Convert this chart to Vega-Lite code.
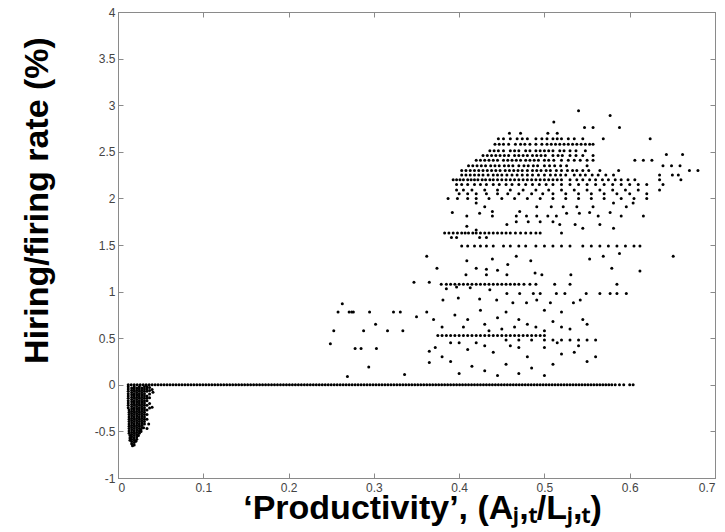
{
"$schema":"https://vega.github.io/schema/vega-lite/v6.json",
"width":597,"height":466,
"autosize":"none",
"padding":{"left":118,"top":12,"right":10,"bottom":54},
"background":"white",
"config":{"view":{"stroke":"#8a8a8a","strokeWidth":1},"font":"Liberation Sans"},
"datasets":{
"zero":[0.012,0.0155,0.019,0.0225,0.026,0.0295,0.033,0.0365,0.04,0.0435,0.047,0.0505,0.054,0.0575,0.061,0.0645,0.068,0.0715,0.075,0.0785,0.082,0.0855,0.089,0.0925,0.096,0.0995,0.103,0.1065,0.11,0.1135,0.117,0.1205,0.124,0.1275,0.131,0.1345,0.138,0.1415,0.145,0.1485,0.152,0.1555,0.159,0.1625,0.166,0.1695,0.173,0.1765,0.18,0.1835,0.187,0.1905,0.194,0.1975,0.201,0.2045,0.208,0.2115,0.215,0.2185,0.222,0.2255,0.229,0.2325,0.236,0.2395,0.243,0.2465,0.25,0.2535,0.257,0.2605,0.264,0.2675,0.271,0.2745,0.278,0.2815,0.285,0.2885,0.292,0.2955,0.299,0.3025,0.306,0.3095,0.313,0.3165,0.32,0.3235,0.327,0.3305,0.334,0.3375,0.341,0.3445,0.348,0.3515,0.355,0.3585,0.362,0.3655,0.369,0.3725,0.376,0.3795,0.383,0.3865,0.39,0.3935,0.397,0.4005,0.404,0.4075,0.411,0.4145,0.418,0.4215,0.425,0.4285,0.432,0.4355,0.439,0.4425,0.446,0.4495,0.453,0.4565,0.46,0.4635,0.467,0.4705,0.474,0.4775,0.481,0.4845,0.488,0.4915,0.495,0.4985,0.502,0.5055,0.509,0.5125,0.516,0.5195,0.523,0.5265,0.53,0.5335,0.537,0.5405,0.544,0.5475,0.551,0.5545,0.558,0.5615,0.565,0.5685,0.572,0.5755,0.579,0.583,0.588,0.593,0.6,0.604],
"pts":[
{"p":0.012,"h":-0.02},{"p":0.012,"h":-0.045},{"p":0.012,"h":-0.07},{"p":0.012,"h":-0.095},{"p":0.012,"h":-0.12},{"p":0.012,"h":-0.145},{"p":0.012,"h":-0.17},{"p":0.012,"h":-0.195},{"p":0.012,"h":-0.22},{"p":0.012,"h":-0.245},{"p":0.013,"h":-0.27},{"p":0.013,"h":-0.295},{"p":0.013,"h":-0.32},{"p":0.013,"h":-0.345},{"p":0.013,"h":-0.37},{"p":0.013,"h":-0.395},{"p":0.013,"h":-0.42},{"p":0.013,"h":-0.445},{"p":0.013,"h":-0.47},{"p":0.013,"h":-0.495},{"p":0.013,"h":-0.52},{"p":0.014,"h":-0.545},{"p":0.014,"h":-0.57},{"p":0.014,"h":-0.595},
{"p":0.016,"h":-0.033},{"p":0.016,"h":-0.058},{"p":0.016,"h":-0.083},{"p":0.016,"h":-0.108},{"p":0.016,"h":-0.133},{"p":0.016,"h":-0.158},{"p":0.016,"h":-0.183},{"p":0.016,"h":-0.208},{"p":0.016,"h":-0.233},{"p":0.016,"h":-0.258},{"p":0.016,"h":-0.283},{"p":0.016,"h":-0.308},{"p":0.016,"h":-0.333},{"p":0.016,"h":-0.358},{"p":0.016,"h":-0.383},{"p":0.016,"h":-0.408},{"p":0.016,"h":-0.433},{"p":0.016,"h":-0.458},{"p":0.016,"h":-0.483},{"p":0.016,"h":-0.508},{"p":0.016,"h":-0.533},{"p":0.016,"h":-0.558},{"p":0.016,"h":-0.583},{"p":0.016,"h":-0.608},{"p":0.016,"h":-0.633},{"p":0.017,"h":-0.655},
{"p":0.019,"h":-0.02},{"p":0.019,"h":-0.045},{"p":0.019,"h":-0.07},{"p":0.019,"h":-0.095},{"p":0.019,"h":-0.12},{"p":0.019,"h":-0.145},{"p":0.019,"h":-0.17},{"p":0.019,"h":-0.195},{"p":0.019,"h":-0.22},{"p":0.019,"h":-0.245},{"p":0.019,"h":-0.27},{"p":0.019,"h":-0.295},{"p":0.019,"h":-0.32},{"p":0.019,"h":-0.345},{"p":0.019,"h":-0.37},{"p":0.019,"h":-0.395},{"p":0.019,"h":-0.42},{"p":0.019,"h":-0.445},{"p":0.019,"h":-0.47},{"p":0.019,"h":-0.495},{"p":0.019,"h":-0.52},{"p":0.019,"h":-0.545},{"p":0.019,"h":-0.57},{"p":0.019,"h":-0.595},{"p":0.019,"h":-0.62},{"p":0.019,"h":-0.645},
{"p":0.022,"h":-0.033},{"p":0.022,"h":-0.058},{"p":0.022,"h":-0.083},{"p":0.022,"h":-0.108},{"p":0.022,"h":-0.133},{"p":0.022,"h":-0.158},{"p":0.022,"h":-0.183},{"p":0.022,"h":-0.208},{"p":0.022,"h":-0.233},{"p":0.022,"h":-0.258},{"p":0.022,"h":-0.283},{"p":0.022,"h":-0.308},{"p":0.022,"h":-0.333},{"p":0.022,"h":-0.358},{"p":0.022,"h":-0.383},{"p":0.022,"h":-0.408},{"p":0.022,"h":-0.433},{"p":0.022,"h":-0.458},{"p":0.022,"h":-0.483},{"p":0.022,"h":-0.508},{"p":0.022,"h":-0.533},{"p":0.022,"h":-0.558},{"p":0.022,"h":-0.583},{"p":0.021,"h":-0.605},
{"p":0.025,"h":-0.02},{"p":0.025,"h":-0.045},{"p":0.025,"h":-0.07},{"p":0.025,"h":-0.095},{"p":0.025,"h":-0.12},{"p":0.025,"h":-0.145},{"p":0.025,"h":-0.17},{"p":0.025,"h":-0.195},{"p":0.025,"h":-0.22},{"p":0.025,"h":-0.245},{"p":0.025,"h":-0.27},{"p":0.025,"h":-0.295},{"p":0.025,"h":-0.32},{"p":0.025,"h":-0.345},{"p":0.025,"h":-0.37},{"p":0.025,"h":-0.395},{"p":0.025,"h":-0.42},{"p":0.025,"h":-0.445},{"p":0.025,"h":-0.47},{"p":0.025,"h":-0.495},{"p":0.025,"h":-0.52},{"p":0.024,"h":-0.545},
{"p":0.028,"h":-0.033},{"p":0.028,"h":-0.058},{"p":0.028,"h":-0.083},{"p":0.028,"h":-0.108},{"p":0.028,"h":-0.133},{"p":0.028,"h":-0.158},{"p":0.028,"h":-0.183},{"p":0.028,"h":-0.208},{"p":0.028,"h":-0.233},{"p":0.028,"h":-0.258},{"p":0.028,"h":-0.283},{"p":0.028,"h":-0.308},{"p":0.028,"h":-0.333},{"p":0.028,"h":-0.358},{"p":0.028,"h":-0.383},{"p":0.028,"h":-0.408},{"p":0.028,"h":-0.433},{"p":0.028,"h":-0.458},{"p":0.027,"h":-0.483},{"p":0.027,"h":-0.5},
{"p":0.031,"h":-0.02},{"p":0.031,"h":-0.045},{"p":0.031,"h":-0.07},{"p":0.031,"h":-0.095},{"p":0.031,"h":-0.12},{"p":0.031,"h":-0.145},{"p":0.031,"h":-0.17},{"p":0.031,"h":-0.195},{"p":0.031,"h":-0.22},{"p":0.031,"h":-0.245},{"p":0.031,"h":-0.27},{"p":0.031,"h":-0.295},{"p":0.031,"h":-0.32},{"p":0.031,"h":-0.345},{"p":0.031,"h":-0.37},{"p":0.031,"h":-0.395},{"p":0.031,"h":-0.42},{"p":0.03,"h":-0.46},
{"p":0.034,"h":-0.02},{"p":0.034,"h":-0.045},{"p":0.034,"h":-0.07},{"p":0.034,"h":-0.12},{"p":0.034,"h":-0.145},{"p":0.034,"h":-0.17},{"p":0.034,"h":-0.22},{"p":0.034,"h":-0.27},{"p":0.034,"h":-0.32},{"p":0.034,"h":-0.37},{"p":0.034,"h":-0.47},
{"p":0.037,"h":-0.03},{"p":0.037,"h":-0.06},{"p":0.037,"h":-0.1},{"p":0.037,"h":-0.14},{"p":0.037,"h":-0.2},{"p":0.037,"h":-0.25},{"p":0.036,"h":-0.42},
{"p":0.04,"h":-0.05},{"p":0.041,"h":-0.08},{"p":0.04,"h":-0.24},
{"p":0.54,"h":2.94},{"p":0.577,"h":2.89},{"p":0.511,"h":2.82},{"p":0.547,"h":2.76},{"p":0.557,"h":2.76},{"p":0.588,"h":2.76},{"p":0.624,"h":2.64},
{"p":0.459,"h":2.7},{"p":0.472,"h":2.7},{"p":0.504,"h":2.7},{"p":0.515,"h":2.7},
{"p":0.446,"h":2.64},{"p":0.452,"h":2.64},{"p":0.46,"h":2.64},{"p":0.468,"h":2.64},{"p":0.474,"h":2.64},{"p":0.48,"h":2.64},{"p":0.49,"h":2.64},{"p":0.497,"h":2.64},{"p":0.503,"h":2.64},{"p":0.51,"h":2.64},{"p":0.515,"h":2.64},{"p":0.52,"h":2.64},{"p":0.528,"h":2.64},{"p":0.535,"h":2.64},{"p":0.545,"h":2.64},{"p":0.569,"h":2.64},
{"p":0.442,"h":2.58},{"p":0.447,"h":2.58},{"p":0.452,"h":2.58},{"p":0.458,"h":2.58},{"p":0.466,"h":2.58},{"p":0.472,"h":2.58},{"p":0.477,"h":2.58},{"p":0.483,"h":2.58},{"p":0.49,"h":2.58},{"p":0.497,"h":2.58},{"p":0.503,"h":2.58},{"p":0.508,"h":2.58},{"p":0.513,"h":2.58},{"p":0.518,"h":2.58},{"p":0.523,"h":2.58},{"p":0.528,"h":2.58},{"p":0.533,"h":2.58},{"p":0.538,"h":2.58},{"p":0.543,"h":2.58},{"p":0.548,"h":2.58},{"p":0.553,"h":2.58},{"p":0.557,"h":2.58},
{"p":0.436,"h":2.51},{"p":0.441,"h":2.51},{"p":0.446,"h":2.51},{"p":0.452,"h":2.51},{"p":0.46,"h":2.51},{"p":0.465,"h":2.51},{"p":0.47,"h":2.51},{"p":0.478,"h":2.51},{"p":0.483,"h":2.51},{"p":0.49,"h":2.51},{"p":0.495,"h":2.51},{"p":0.5,"h":2.51},{"p":0.505,"h":2.51},{"p":0.51,"h":2.51},{"p":0.518,"h":2.51},{"p":0.523,"h":2.51},{"p":0.53,"h":2.51},{"p":0.537,"h":2.51},{"p":0.548,"h":2.51},
{"p":0.428,"h":2.46},{"p":0.433,"h":2.46},{"p":0.438,"h":2.46},{"p":0.443,"h":2.46},{"p":0.448,"h":2.46},{"p":0.453,"h":2.46},{"p":0.458,"h":2.46},{"p":0.465,"h":2.46},{"p":0.47,"h":2.46},{"p":0.475,"h":2.46},{"p":0.48,"h":2.46},{"p":0.486,"h":2.46},{"p":0.491,"h":2.46},{"p":0.496,"h":2.46},{"p":0.501,"h":2.46},{"p":0.51,"h":2.46},{"p":0.516,"h":2.46},{"p":0.521,"h":2.46},{"p":0.53,"h":2.46},{"p":0.537,"h":2.46},{"p":0.545,"h":2.46},{"p":0.557,"h":2.46},{"p":0.643,"h":2.47},{"p":0.662,"h":2.47},
{"p":0.42,"h":2.41},{"p":0.425,"h":2.41},{"p":0.43,"h":2.41},{"p":0.435,"h":2.41},{"p":0.44,"h":2.41},{"p":0.445,"h":2.41},{"p":0.452,"h":2.41},{"p":0.457,"h":2.41},{"p":0.462,"h":2.41},{"p":0.467,"h":2.41},{"p":0.472,"h":2.41},{"p":0.478,"h":2.41},{"p":0.483,"h":2.41},{"p":0.488,"h":2.41},{"p":0.493,"h":2.41},{"p":0.5,"h":2.41},{"p":0.505,"h":2.41},{"p":0.511,"h":2.41},{"p":0.52,"h":2.41},{"p":0.528,"h":2.41},{"p":0.535,"h":2.41},{"p":0.542,"h":2.41},{"p":0.55,"h":2.41},{"p":0.557,"h":2.41},{"p":0.606,"h":2.41},{"p":0.616,"h":2.41},{"p":0.626,"h":2.41},
{"p":0.411,"h":2.35},{"p":0.416,"h":2.35},{"p":0.421,"h":2.35},{"p":0.426,"h":2.35},{"p":0.431,"h":2.35},{"p":0.437,"h":2.35},{"p":0.442,"h":2.35},{"p":0.447,"h":2.35},{"p":0.453,"h":2.35},{"p":0.458,"h":2.35},{"p":0.463,"h":2.35},{"p":0.47,"h":2.35},{"p":0.476,"h":2.35},{"p":0.481,"h":2.35},{"p":0.487,"h":2.35},{"p":0.492,"h":2.35},{"p":0.5,"h":2.35},{"p":0.506,"h":2.35},{"p":0.512,"h":2.35},{"p":0.519,"h":2.35},{"p":0.526,"h":2.35},{"p":0.55,"h":2.35},{"p":0.639,"h":2.35},{"p":0.649,"h":2.35},{"p":0.659,"h":2.35},
{"p":0.403,"h":2.3},{"p":0.408,"h":2.3},{"p":0.413,"h":2.3},{"p":0.418,"h":2.3},{"p":0.423,"h":2.3},{"p":0.428,"h":2.3},{"p":0.433,"h":2.3},{"p":0.438,"h":2.3},{"p":0.443,"h":2.3},{"p":0.448,"h":2.3},{"p":0.454,"h":2.3},{"p":0.459,"h":2.3},{"p":0.464,"h":2.3},{"p":0.469,"h":2.3},{"p":0.474,"h":2.3},{"p":0.48,"h":2.3},{"p":0.486,"h":2.3},{"p":0.491,"h":2.3},{"p":0.496,"h":2.3},{"p":0.502,"h":2.3},{"p":0.507,"h":2.3},{"p":0.514,"h":2.3},{"p":0.52,"h":2.3},{"p":0.527,"h":2.3},{"p":0.533,"h":2.3},{"p":0.538,"h":2.3},{"p":0.545,"h":2.3},{"p":0.552,"h":2.3},{"p":0.565,"h":2.3},{"p":0.587,"h":2.3},{"p":0.67,"h":2.3},{"p":0.68,"h":2.3},
{"p":0.403,"h":2.25},{"p":0.408,"h":2.25},{"p":0.413,"h":2.25},{"p":0.418,"h":2.25},{"p":0.423,"h":2.25},{"p":0.428,"h":2.25},{"p":0.434,"h":2.25},{"p":0.44,"h":2.25},{"p":0.445,"h":2.25},{"p":0.45,"h":2.25},{"p":0.456,"h":2.25},{"p":0.462,"h":2.25},{"p":0.468,"h":2.25},{"p":0.474,"h":2.25},{"p":0.48,"h":2.25},{"p":0.486,"h":2.25},{"p":0.493,"h":2.25},{"p":0.5,"h":2.25},{"p":0.507,"h":2.25},{"p":0.513,"h":2.25},{"p":0.519,"h":2.25},{"p":0.525,"h":2.25},{"p":0.535,"h":2.25},{"p":0.542,"h":2.25},{"p":0.548,"h":2.25},{"p":0.556,"h":2.25},{"p":0.563,"h":2.25},{"p":0.572,"h":2.25},{"p":0.581,"h":2.25},{"p":0.635,"h":2.25},{"p":0.65,"h":2.25},{"p":0.657,"h":2.25},
{"p":0.393,"h":2.2},{"p":0.397,"h":2.2},{"p":0.401,"h":2.2},{"p":0.405,"h":2.2},{"p":0.41,"h":2.2},{"p":0.414,"h":2.2},{"p":0.418,"h":2.2},{"p":0.422,"h":2.2},{"p":0.427,"h":2.2},{"p":0.431,"h":2.2},{"p":0.436,"h":2.2},{"p":0.44,"h":2.2},{"p":0.445,"h":2.2},{"p":0.45,"h":2.2},{"p":0.455,"h":2.2},{"p":0.46,"h":2.2},{"p":0.465,"h":2.2},{"p":0.47,"h":2.2},{"p":0.475,"h":2.2},{"p":0.48,"h":2.2},{"p":0.485,"h":2.2},{"p":0.49,"h":2.2},{"p":0.495,"h":2.2},{"p":0.5,"h":2.2},{"p":0.505,"h":2.2},{"p":0.51,"h":2.2},{"p":0.515,"h":2.2},{"p":0.52,"h":2.2},{"p":0.53,"h":2.2},{"p":0.538,"h":2.2},{"p":0.545,"h":2.2},{"p":0.553,"h":2.2},{"p":0.56,"h":2.2},{"p":0.568,"h":2.2},{"p":0.575,"h":2.2},{"p":0.583,"h":2.2},{"p":0.59,"h":2.2},{"p":0.598,"h":2.2},{"p":0.606,"h":2.2},{"p":0.635,"h":2.2},{"p":0.66,"h":2.2},
{"p":0.397,"h":2.15},{"p":0.403,"h":2.15},{"p":0.41,"h":2.15},{"p":0.418,"h":2.15},{"p":0.425,"h":2.15},{"p":0.432,"h":2.15},{"p":0.44,"h":2.15},{"p":0.447,"h":2.15},{"p":0.455,"h":2.15},{"p":0.462,"h":2.15},{"p":0.47,"h":2.15},{"p":0.478,"h":2.15},{"p":0.486,"h":2.15},{"p":0.494,"h":2.15},{"p":0.502,"h":2.15},{"p":0.51,"h":2.15},{"p":0.52,"h":2.15},{"p":0.53,"h":2.15},{"p":0.54,"h":2.15},{"p":0.55,"h":2.15},{"p":0.56,"h":2.15},{"p":0.57,"h":2.15},{"p":0.58,"h":2.15},{"p":0.59,"h":2.15},{"p":0.6,"h":2.15},{"p":0.61,"h":2.15},{"p":0.62,"h":2.15},{"p":0.639,"h":2.15},
{"p":0.397,"h":2.09},{"p":0.405,"h":2.09},{"p":0.415,"h":2.09},{"p":0.43,"h":2.09},{"p":0.445,"h":2.09},{"p":0.46,"h":2.09},{"p":0.475,"h":2.09},{"p":0.49,"h":2.09},{"p":0.505,"h":2.09},{"p":0.52,"h":2.09},{"p":0.535,"h":2.09},{"p":0.55,"h":2.09},{"p":0.565,"h":2.09},{"p":0.58,"h":2.09},{"p":0.595,"h":2.09},{"p":0.61,"h":2.09},{"p":0.635,"h":2.09},
{"p":0.4,"h":2.05},{"p":0.41,"h":2.05},{"p":0.42,"h":2.05},{"p":0.432,"h":2.05},{"p":0.445,"h":2.05},{"p":0.457,"h":2.05},{"p":0.47,"h":2.05},{"p":0.485,"h":2.05},{"p":0.498,"h":2.05},{"p":0.51,"h":2.05},{"p":0.525,"h":2.05},{"p":0.54,"h":2.05},{"p":0.555,"h":2.05},{"p":0.57,"h":2.05},{"p":0.585,"h":2.05},{"p":0.6,"h":2.05},{"p":0.62,"h":2.05},
{"p":0.387,"h":2.0},{"p":0.398,"h":2.0},{"p":0.41,"h":2.0},{"p":0.42,"h":2.0},{"p":0.435,"h":2.0},{"p":0.45,"h":2.0},{"p":0.465,"h":2.0},{"p":0.48,"h":2.0},{"p":0.495,"h":2.0},{"p":0.51,"h":2.0},{"p":0.525,"h":2.0},{"p":0.54,"h":2.0},{"p":0.555,"h":2.0},{"p":0.57,"h":2.0},{"p":0.59,"h":2.0},{"p":0.605,"h":2.0},{"p":0.62,"h":2.0},
{"p":0.42,"h":1.95},{"p":0.43,"h":1.91},{"p":0.439,"h":1.86},{"p":0.424,"h":1.84},{"p":0.409,"h":1.81},{"p":0.392,"h":1.85},{"p":0.439,"h":1.81},{"p":0.467,"h":1.81},{"p":0.479,"h":1.81},{"p":0.491,"h":1.81},{"p":0.504,"h":1.81},{"p":0.514,"h":1.81},{"p":0.526,"h":1.84},{"p":0.541,"h":1.84},{"p":0.553,"h":1.85},{"p":0.563,"h":1.81},{"p":0.577,"h":1.85},{"p":0.59,"h":1.81},{"p":0.596,"h":1.91},{"p":0.616,"h":1.81},{"p":0.471,"h":1.86},{"p":0.491,"h":1.91},{"p":0.508,"h":1.91},{"p":0.522,"h":1.91},{"p":0.538,"h":1.91},{"p":0.557,"h":1.91},{"p":0.581,"h":1.95},{"p":0.604,"h":1.95},{"p":0.456,"h":1.72},{"p":0.467,"h":1.75},{"p":0.481,"h":1.75},{"p":0.495,"h":1.75},{"p":0.51,"h":1.75},{"p":0.518,"h":1.72},{"p":0.536,"h":1.72},{"p":0.545,"h":1.68},{"p":0.565,"h":1.72},{"p":0.581,"h":1.68},{"p":0.409,"h":1.7},{"p":0.42,"h":1.66},
{"p":0.383,"h":1.63},{"p":0.388,"h":1.63},{"p":0.393,"h":1.63},{"p":0.398,"h":1.63},{"p":0.403,"h":1.63},{"p":0.407,"h":1.63},{"p":0.411,"h":1.63},{"p":0.416,"h":1.63},{"p":0.42,"h":1.63},{"p":0.425,"h":1.63},{"p":0.43,"h":1.63},{"p":0.435,"h":1.63},{"p":0.44,"h":1.63},{"p":0.445,"h":1.63},{"p":0.45,"h":1.63},{"p":0.455,"h":1.63},{"p":0.46,"h":1.63},{"p":0.466,"h":1.63},{"p":0.472,"h":1.63},{"p":0.478,"h":1.63},{"p":0.484,"h":1.63},{"p":0.49,"h":1.63},{"p":0.495,"h":1.63},{"p":0.52,"h":1.63},
{"p":0.391,"h":1.58},{"p":0.397,"h":1.58},{"p":0.424,"h":1.58},{"p":0.432,"h":1.58},
{"p":0.403,"h":1.49},{"p":0.41,"h":1.49},{"p":0.418,"h":1.49},{"p":0.425,"h":1.49},{"p":0.432,"h":1.49},{"p":0.44,"h":1.49},{"p":0.452,"h":1.49},{"p":0.46,"h":1.49},{"p":0.47,"h":1.49},{"p":0.478,"h":1.49},{"p":0.49,"h":1.49},{"p":0.5,"h":1.49},{"p":0.51,"h":1.49},{"p":0.52,"h":1.49},{"p":0.53,"h":1.49},{"p":0.545,"h":1.49},{"p":0.555,"h":1.49},{"p":0.565,"h":1.49},{"p":0.575,"h":1.49},{"p":0.585,"h":1.49},{"p":0.595,"h":1.49},{"p":0.605,"h":1.49},{"p":0.612,"h":1.49},
{"p":0.588,"h":1.41},{"p":0.651,"h":1.38},{"p":0.362,"h":1.38},
{"p":0.409,"h":1.33},{"p":0.439,"h":1.35},{"p":0.467,"h":1.38},{"p":0.484,"h":1.33},{"p":0.374,"h":1.25},{"p":0.42,"h":1.25},{"p":0.432,"h":1.24},{"p":0.445,"h":1.23},{"p":0.457,"h":1.29},{"p":0.489,"h":1.2},{"p":0.497,"h":1.18},{"p":0.531,"h":1.18},{"p":0.553,"h":1.35},{"p":0.569,"h":1.38},{"p":0.579,"h":1.25},{"p":0.612,"h":1.22},{"p":0.408,"h":1.18},{"p":0.432,"h":1.18},{"p":0.456,"h":1.18},
{"p":0.379,"h":1.08},{"p":0.385,"h":1.08},{"p":0.39,"h":1.08},{"p":0.395,"h":1.08},{"p":0.4,"h":1.08},{"p":0.405,"h":1.08},{"p":0.41,"h":1.08},{"p":0.415,"h":1.08},{"p":0.42,"h":1.08},{"p":0.425,"h":1.08},{"p":0.43,"h":1.08},{"p":0.435,"h":1.08},{"p":0.44,"h":1.08},{"p":0.445,"h":1.08},{"p":0.45,"h":1.08},{"p":0.455,"h":1.08},{"p":0.46,"h":1.08},{"p":0.465,"h":1.08},{"p":0.47,"h":1.08},{"p":0.476,"h":1.08},{"p":0.483,"h":1.08},{"p":0.49,"h":1.08},{"p":0.512,"h":1.08},{"p":0.53,"h":1.08},{"p":0.585,"h":1.08},{"p":0.347,"h":1.1},{"p":0.365,"h":1.1},
{"p":0.385,"h":1.03},{"p":0.397,"h":1.05},{"p":0.413,"h":1.04},{"p":0.436,"h":1.02},{"p":0.456,"h":0.98},{"p":0.471,"h":0.98},{"p":0.487,"h":0.98},{"p":0.495,"h":0.98},{"p":0.514,"h":0.98},{"p":0.524,"h":0.98},{"p":0.549,"h":0.98},{"p":0.565,"h":0.98},{"p":0.577,"h":0.98},{"p":0.585,"h":0.98},{"p":0.596,"h":0.98},
{"p":0.381,"h":0.91},{"p":0.399,"h":0.93},{"p":0.424,"h":0.92},{"p":0.444,"h":0.91},{"p":0.463,"h":0.88},{"p":0.479,"h":0.88},{"p":0.491,"h":0.91},{"p":0.507,"h":0.88},{"p":0.534,"h":0.88},{"p":0.542,"h":0.91},
{"p":0.375,"h":0.53},{"p":0.38,"h":0.53},{"p":0.385,"h":0.53},{"p":0.39,"h":0.53},{"p":0.395,"h":0.53},{"p":0.4,"h":0.53},{"p":0.405,"h":0.53},{"p":0.41,"h":0.53},{"p":0.415,"h":0.53},{"p":0.42,"h":0.53},{"p":0.425,"h":0.53},{"p":0.43,"h":0.53},{"p":0.435,"h":0.53},{"p":0.44,"h":0.53},{"p":0.445,"h":0.53},{"p":0.45,"h":0.53},{"p":0.455,"h":0.53},{"p":0.46,"h":0.53},{"p":0.465,"h":0.53},{"p":0.47,"h":0.53},{"p":0.475,"h":0.53},{"p":0.48,"h":0.53},{"p":0.485,"h":0.53},{"p":0.49,"h":0.53},{"p":0.495,"h":0.53},{"p":0.5,"h":0.53},
{"p":0.455,"h":0.48},{"p":0.47,"h":0.48},{"p":0.485,"h":0.48},{"p":0.5,"h":0.48},{"p":0.51,"h":0.48},{"p":0.52,"h":0.48},{"p":0.53,"h":0.48},{"p":0.54,"h":0.48},{"p":0.55,"h":0.48},{"p":0.56,"h":0.48},
{"p":0.362,"h":0.78},{"p":0.37,"h":0.7},{"p":0.38,"h":0.62},{"p":0.39,"h":0.45},{"p":0.372,"h":0.4},{"p":0.405,"h":0.62},{"p":0.41,"h":0.38},{"p":0.42,"h":0.45},{"p":0.43,"h":0.65},{"p":0.44,"h":0.35},{"p":0.445,"h":0.72},{"p":0.45,"h":0.6},{"p":0.46,"h":0.42},{"p":0.47,"h":0.7},{"p":0.48,"h":0.3},{"p":0.49,"h":0.62},{"p":0.5,"h":0.4},{"p":0.51,"h":0.68},{"p":0.52,"h":0.33},{"p":0.53,"h":0.6},{"p":0.54,"h":0.42},{"p":0.55,"h":0.65},{"p":0.56,"h":0.3},{"p":0.39,"h":0.25},{"p":0.4,"h":0.12},{"p":0.415,"h":0.2},{"p":0.43,"h":0.15},{"p":0.445,"h":0.1},{"p":0.455,"h":0.22},{"p":0.47,"h":0.12},{"p":0.485,"h":0.18},{"p":0.5,"h":0.1},{"p":0.51,"h":0.22},{"p":0.38,"h":0.3},{"p":0.455,"h":0.78},{"p":0.5,"h":0.8},{"p":0.52,"h":0.78},{"p":0.425,"h":0.8},{"p":0.395,"h":0.75},{"p":0.41,"h":0.7},{"p":0.435,"h":0.58},{"p":0.465,"h":0.62},{"p":0.48,"h":0.65},{"p":0.5,"h":0.58},{"p":0.52,"h":0.62},{"p":0.545,"h":0.7},{"p":0.4,"h":0.45},{"p":0.43,"h":0.42},{"p":0.47,"h":0.4},{"p":0.515,"h":0.45},{"p":0.535,"h":0.35},{"p":0.55,"h":0.25},
{"p":0.263,"h":0.87},{"p":0.258,"h":0.78},{"p":0.271,"h":0.78},{"p":0.274,"h":0.78},{"p":0.276,"h":0.78},{"p":0.295,"h":0.78},{"p":0.323,"h":0.78},{"p":0.331,"h":0.78},{"p":0.35,"h":0.73},{"p":0.302,"h":0.65},{"p":0.253,"h":0.58},{"p":0.288,"h":0.58},{"p":0.316,"h":0.58},{"p":0.334,"h":0.58},{"p":0.249,"h":0.44},{"p":0.278,"h":0.39},{"p":0.285,"h":0.39},{"p":0.303,"h":0.39},{"p":0.294,"h":0.19},{"p":0.269,"h":0.09},{"p":0.336,"h":0.11},{"p":0.365,"h":0.36},{"p":0.365,"h":0.24}
]
},
"layer":[
{"data":{"name":"zero"},
 "mark":{"type":"point","filled":true,"shape":"circle","size":9,"color":"black","opacity":1},
 "encoding":{
  "x":{"field":"data","type":"quantitative","scale":{"domain":[0,0.7],"nice":false,"zero":false},
   "axis":{"values":[0,0.1,0.2,0.3,0.4,0.5,0.6,0.7],"labelExpr":"'' + datum.value","grid":false,"tickSize":-5,"tickColor":"#8a8a8a","domainColor":"#8a8a8a","labelColor":"#444","labelFontSize":12,"labelPadding":9,"labelFont":"Liberation Sans",
    "title":"‘Productivity’, (Aⱼ,ₜ/Lⱼ,ₜ)","titleFont":"Liberation Sans","titleFontSize":34,"titleFontWeight":"bold","titleColor":"black","titleY":40,"titleX":304,"titleBaseline":"alphabetic"}},
  "y":{"datum":0,"type":"quantitative","scale":{"domain":[-1,4],"nice":false,"zero":false},
   "axis":{"values":[-1,-0.5,0,0.5,1,1.5,2,2.5,3,3.5,4],"labelExpr":"'' + datum.value","grid":false,"tickSize":-5,"tickColor":"#8a8a8a","domainColor":"#8a8a8a","labelColor":"#444","labelFontSize":12,"labelPadding":8,"labelFont":"Liberation Sans",
    "title":"Hiring/firing rate (%)","titleFont":"Liberation Sans","titleFontSize":34,"titleFontWeight":"bold","titleColor":"black","titleX":-71,"titleY":188,"titleBaseline":"alphabetic"}}
 }},
{"data":{"name":"pts"},
 "mark":{"type":"point","filled":true,"shape":"circle","size":9,"color":"black","opacity":1},
 "encoding":{
  "x":{"field":"p","type":"quantitative","axis":{"orient":"top","values":[0,0.1,0.2,0.3,0.4,0.5,0.6,0.7],"labels":false,"title":null,"grid":false,"tickSize":-5,"tickColor":"#8a8a8a","domainColor":"#8a8a8a"}},
  "y":{"field":"h","type":"quantitative","axis":{"orient":"right","values":[-1,-0.5,0,0.5,1,1.5,2,2.5,3,3.5,4],"labels":false,"title":null,"grid":false,"tickSize":-5,"tickColor":"#8a8a8a","domainColor":"#8a8a8a"}}
 }}
],
"resolve":{"axis":{"x":"independent","y":"independent"}}
}
